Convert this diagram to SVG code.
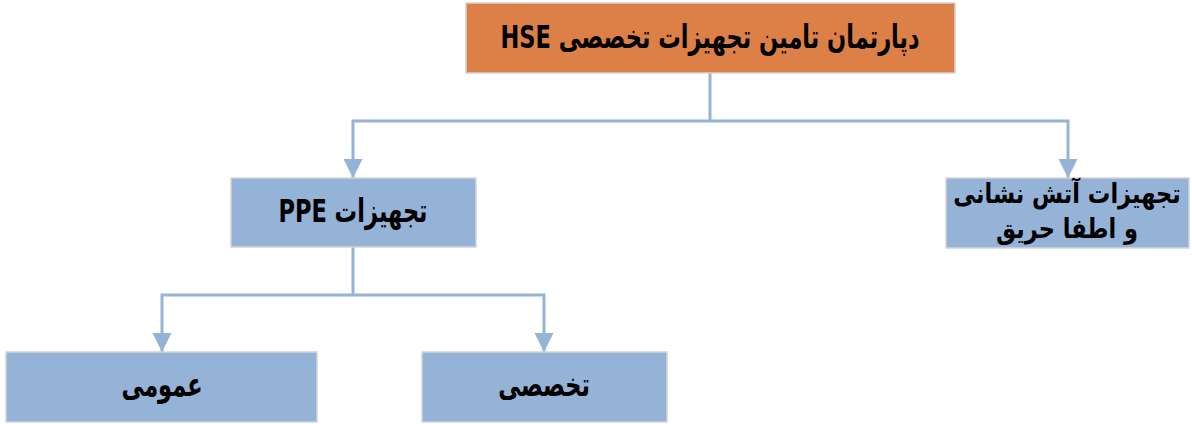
<svg xmlns="http://www.w3.org/2000/svg" width="1192" height="424" viewBox="0 0 1192 424">
<style>
.box{stroke:#D4D4D4;stroke-width:1.5}
.orange{fill:#DD8047}
.blue{fill:#95B3D7}
.lbl{font-family:"DejaVu Sans Condensed","DejaVu Sans","Noto Sans",sans-serif;font-stretch:condensed;font-weight:bold;font-size:25px;fill:#000;text-anchor:middle;direction:rtl}
.conn{fill:none;stroke:#95B3D7;stroke-width:3}
</style>
<defs>
<marker id="arr" markerUnits="userSpaceOnUse" markerWidth="19" markerHeight="20" refX="19" refY="9.5" orient="auto" viewBox="0 0 19 19">
<path d="M0,0 L19,9.5 L0,19 Z" fill="#95B3D7"/>
</marker>
</defs>
<g id="connectors">
<path class="conn" d="M710,73 V121"/>
<path class="conn" d="M710,121 H353 V178" marker-end="url(#arr)"/>
<path class="conn" d="M710,121 H1068 V178" marker-end="url(#arr)"/>
<path class="conn" d="M353,247 V295"/>
<path class="conn" d="M353,295 H162 V352" marker-end="url(#arr)"/>
<path class="conn" d="M353,295 H544 V352" marker-end="url(#arr)"/>
</g>
<g id="node-top">
<rect class="box orange" x="466" y="3" width="489" height="70"/>
<text class="lbl" transform="translate(710,48) scale(1,1.3)">دپارتمان تامین تجهیزات تخصصی HSE</text>
</g>
<g id="node-ppe">
<rect class="box blue" x="231" y="178" width="245" height="69"/>
<text class="lbl" transform="translate(353,222) scale(1,1.3)">تجهیزات PPE</text>
</g>
<g id="node-fire">
<rect class="box blue" x="946" y="178" width="243" height="70"/>
<text class="lbl" transform="translate(1067,203) scale(1,1.1)">تجهیزات آتش نشانی</text>
<text class="lbl" transform="translate(1067,238) scale(1,1.1)">و اطفا حریق</text>
</g>
<g id="node-general">
<rect class="box blue" x="6" y="352" width="311" height="70"/>
<text class="lbl" transform="translate(162,396) scale(1,1.3)">عمومی</text>
</g>
<g id="node-special">
<rect class="box blue" x="422" y="352" width="245" height="70"/>
<text class="lbl" transform="translate(544,396) scale(1,1.3)">تخصصی</text>
</g>
</svg>
